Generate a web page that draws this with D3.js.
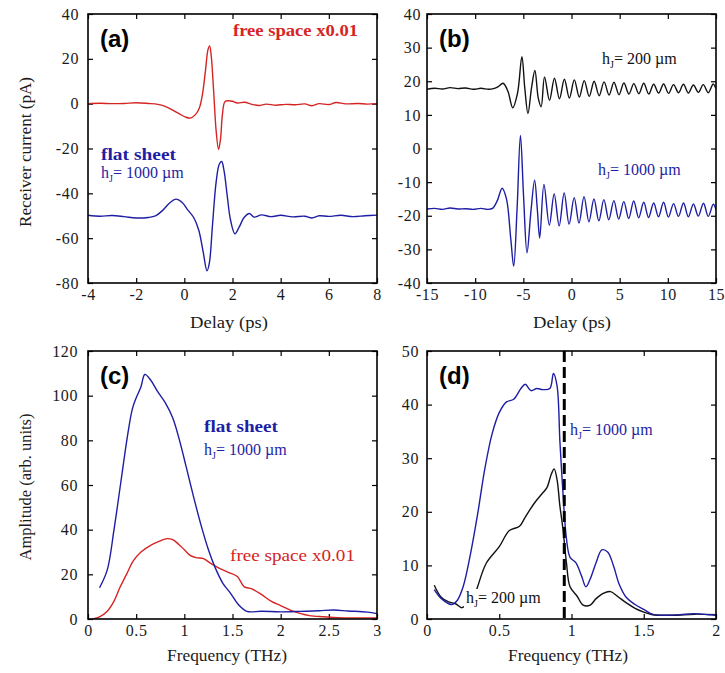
<!DOCTYPE html>
<html>
<head>
<meta charset="utf-8">
<script src="https://cdn.jsdelivr.net/npm/d3@7"></script>
<style>
  body { margin: 0; background: #fff; }
  svg { display: block; }
</style>
</head>
<body>
<svg id="fig" width="725" height="673"></svg>
<script>
// ---------- (a) time-domain pulses, delay in ps, current in pA ----------
const delayTicksA = [-4, -2, 0, 2, 4, 6, 8];
const currentTicksA = [-80, -60, -40, -20, 0, 20, 40];
const freeSpaceA = [
  [-4, 0], [-3.5, 0.2], [-3, 0], [-2.5, 0.1], [-2, 0.4], [-1.5, 0.1], [-1.1, -0.3],
  [-0.8, -1.2], [-0.5, -2.8], [-0.2, -4.6], [0.05, -6], [0.25, -6.4], [0.45, -5],
  [0.62, -2], [0.75, 4], [0.88, 15], [0.98, 24], [1.05, 25.8], [1.12, 21],
  [1.22, 5], [1.32, -12], [1.42, -20.4], [1.5, -16], [1.58, -5], [1.68, 0.8],
  [1.8, 1.3], [2.0, 1.1], [2.2, 0.3], [2.5, 0.6], [2.8, -0.3], [3.1, -0.8],
  [3.4, -0.2], [3.8, -0.7], [4.2, -0.3], [4.6, -0.5], [5.0, -0.1], [5.3, -0.9],
  [5.6, 0], [6.0, -0.4], [6.3, 0.5], [6.7, -0.1], [7.2, 0.1], [7.6, -0.2], [8, 0]
];
const flatSheetA = [
  [-4, -49.8], [-3.5, -50.2], [-3, -49.9], [-2.5, -50.4], [-2, -51], [-1.5, -50.8],
  [-1.2, -50.1], [-0.9, -47.6], [-0.6, -44.2], [-0.35, -42.6], [-0.1, -44],
  [0.15, -47.5], [0.4, -51], [0.6, -56.5], [0.78, -66], [0.94, -74.6], [1.04, -71],
  [1.17, -54], [1.32, -35], [1.45, -27], [1.55, -25.8], [1.65, -30], [1.78, -41],
  [1.92, -52], [2.1, -58], [2.28, -55], [2.48, -50.8], [2.7, -49], [2.9, -50.6],
  [3.2, -49.6], [3.6, -50.4], [4, -49.8], [4.5, -50.5], [5, -50.2], [5.3, -51],
  [5.6, -50], [6, -50.3], [6.5, -49.8], [7, -50.4], [7.5, -50], [8, -49.7]
];

// ---------- (b) time-domain pulses for two sheet heights ----------
const delayTicksB = [-15, -10, -5, 0, 5, 10, 15];
const currentTicksB = [-40, -30, -20, -10, 0, 10, 20, 30, 40];
const h200B = [
  [-15, 17.6], [-14.2, 17.9], [-13.4, 17.7], [-12.6, 18.1], [-11.8, 17.8],
  [-11, 18], [-10.2, 17.6], [-9.4, 17.9], [-8.6, 17.6], [-8.1, 17.8], [-7.6, 18.4],
  [-7.1, 19.4], [-6.6, 17], [-6.1, 12.1], [-5.6, 16.5], [-5.15, 27.3], [-4.85, 18],
  [-4.52, 10.4], [-4.15, 18], [-3.8, 23.2], [-3.45, 15], [-3.15, 12.4],
  [-2.8, 21.3], [-2.28, 14.3], [-1.77, 20.9], [-1.25, 14.8], [-0.74, 20.6],
  [-0.22, 15.0], [0.29, 20.4], [0.81, 15.3], [1.32, 20.2], [1.84, 15.5],
  [2.35, 20.0], [2.87, 15.7], [3.38, 19.8], [3.9, 15.9], [4.41, 19.7], [4.93, 16.0],
  [5.44, 19.5], [5.96, 16.2], [6.47, 19.3], [6.99, 16.3], [7.5, 19.4], [8.02, 16.2],
  [8.53, 19.1], [9.05, 16.5], [9.56, 19.2], [10.08, 16.4], [10.59, 19.0],
  [11.11, 16.6], [11.62, 19.1], [12.14, 16.5], [12.65, 18.9], [13.17, 16.7],
  [13.68, 19.0], [14.2, 16.6], [14.71, 19.2], [15, 17.8]
];
const h1000B = [
  [-15, -18], [-14.2, -17.8], [-13.4, -18.1], [-12.6, -17.7], [-11.8, -18],
  [-11, -17.9], [-10.2, -18.1], [-9.4, -17.8], [-8.7, -18.1], [-8.2, -17.8],
  [-7.7, -15.5], [-7.2, -11.8], [-6.75, -15], [-6.3, -27], [-6.0, -35], [-5.65, -18],
  [-5.3, 3.9], [-4.98, -14], [-4.62, -31], [-4.22, -19], [-3.83, -9.4], [-3.55, -18],
  [-3.3, -26.6], [-2.86, -10.7], [-2.3, -22.8], [-1.8, -13.5], [-1.28, -23],
  [-0.76, -13.2], [-0.25, -22.5], [0.28, -14.6], [0.78, -22.2], [1.3, -14.3],
  [1.81, -21.8], [2.33, -15], [2.84, -21.5], [3.36, -15.2], [3.87, -21.2],
  [4.4, -15.5], [4.9, -21], [5.43, -15.8], [5.94, -20.8], [6.46, -15.6],
  [6.97, -20.6], [7.5, -16], [8.0, -20.5], [8.53, -16.2], [9.03, -20.3],
  [9.56, -16], [10.06, -20.4], [10.6, -16.4], [11.1, -20.2], [11.63, -16.2],
  [12.13, -20.3], [12.66, -16.5], [13.16, -20.1], [13.7, -16.3], [14.2, -20.2],
  [14.72, -16.6], [15, -18.2]
];

// ---------- (c) amplitude spectra, frequency in THz ----------
const freqTicksC = [0, 0.5, 1, 1.5, 2, 2.5, 3];
const ampTicksC = [0, 20, 40, 60, 80, 100, 120];
const flatSheetC = [
  [0.12, 14], [0.2, 22], [0.27, 40], [0.34, 61], [0.41, 82], [0.46, 94], [0.5, 99],
  [0.55, 104], [0.59, 109.5], [0.65, 107], [0.72, 102], [0.8, 97], [0.88, 90],
  [0.95, 80], [1.02, 68], [1.1, 54], [1.18, 41], [1.25, 31], [1.32, 23], [1.4, 16],
  [1.48, 11.5], [1.56, 6.5], [1.65, 3.4], [1.8, 3.5], [2.0, 3.2], [2.2, 3.4],
  [2.4, 3.7], [2.55, 4], [2.7, 3.6], [2.9, 3.1], [3.0, 2.4]
];
const freeSpaceC = [
  [0.05, 0], [0.12, 1], [0.2, 3.5], [0.27, 8], [0.33, 14], [0.4, 20], [0.47, 26],
  [0.55, 30], [0.65, 33], [0.75, 35], [0.82, 36], [0.88, 35.5], [0.94, 33.5],
  [1.0, 31], [1.06, 28.5], [1.12, 27.5], [1.2, 27], [1.27, 25], [1.35, 23],
  [1.45, 21], [1.55, 19], [1.62, 14.5], [1.7, 13.5], [1.8, 11], [1.9, 8], [2.0, 6],
  [2.1, 4], [2.2, 2.5], [2.3, 1.5], [2.45, 1], [2.6, 0.6], [2.8, 0.5], [3.0, 0.5]
];

// ---------- (d) amplitude spectra for two sheet heights ----------
const freqTicksD = [0, 0.5, 1, 1.5, 2];
const ampTicksD = [0, 10, 20, 30, 40, 50];
const cutoffD = [0.95];
const h1000D = [
  [0.05, 5.5], [0.1, 3.8], [0.17, 2.7], [0.21, 3.5], [0.25, 6], [0.3, 12],
  [0.35, 19.5], [0.4, 28], [0.45, 34.5], [0.5, 38.5], [0.55, 40.5], [0.6, 41],
  [0.65, 43], [0.68, 43.8], [0.72, 42.6], [0.76, 43], [0.8, 42.8], [0.85, 43],
  [0.875, 45.8], [0.9, 43.5], [0.92, 33], [0.94, 24], [0.965, 15], [0.99, 11.5],
  [1.03, 10.5], [1.07, 8], [1.1, 6], [1.13, 7.5], [1.17, 10.5], [1.21, 12.9],
  [1.25, 12.5], [1.29, 10], [1.33, 6.5], [1.38, 4], [1.44, 2.7], [1.5, 1.8],
  [1.56, 0.9], [1.65, 0.7], [1.75, 0.8], [1.85, 1], [1.95, 0.8], [2.0, 0.7]
];
const h200D = [
  [0.05, 6.3], [0.1, 4], [0.15, 3.2], [0.2, 2.8], [0.24, 2.1], [0.28, 2.8],
  [0.32, 3.5], [0.35, 6], [0.41, 10.4], [0.5, 13.5], [0.57, 16.5], [0.64, 17.3],
  [0.68, 19], [0.74, 21.5], [0.8, 23.5], [0.83, 24.5], [0.86, 27], [0.88, 28],
  [0.9, 26], [0.92, 21], [0.94, 17], [0.965, 10.5], [0.99, 6], [1.04, 4.2],
  [1.08, 2.6], [1.13, 2.6], [1.17, 3.8], [1.22, 4.8], [1.27, 5.1], [1.32, 4.2],
  [1.38, 3], [1.44, 2], [1.5, 1.3], [1.56, 0.8], [1.7, 0.7], [1.85, 0.9], [2.0, 0.8]
];

// ---------- drawing ----------
const RED = "#d62424";
const BLUE = "#1e1ea4";
const BLACK = "#111";
const serif = "'Liberation Serif', 'Times New Roman', serif";
const sans = "'Liberation Sans', Arial, sans-serif";

const svg = d3.select("#fig");
svg.append("rect").attr("width", 725).attr("height", 673).attr("fill", "#fff");

function panel(o) {
  const x = d3.scaleLinear().domain(o.xDomain).range([o.left, o.right]);
  const y = d3.scaleLinear().domain(o.yDomain).range([o.bottom, o.top]);
  const g = svg.append("g");
  const fmt = d => String(d);

  const styleAxis = sel => {
    sel.select(".domain").remove();
    sel.selectAll(".tick line").attr("stroke", "#000").attr("stroke-width", 1.2);
    sel.selectAll("text").attr("font-family", serif).attr("font-size", 16)
      .attr("fill", "#1a1a1a").attr("letter-spacing", 0.6);
  };

  g.append("g").attr("transform", `translate(0,${o.bottom})`)
    .call(d3.axisBottom(x).tickValues(o.xTicks).tickSize(-5).tickSizeOuter(0)
      .tickPadding(6).tickFormat(fmt)).call(styleAxis);
  g.append("g").attr("transform", `translate(0,${o.top})`)
    .call(d3.axisTop(x).tickValues(o.xTicks).tickSize(-5).tickSizeOuter(0)
      .tickFormat("")).call(styleAxis);
  g.append("g").attr("transform", `translate(${o.left},0)`)
    .call(d3.axisLeft(y).tickValues(o.yTicks).tickSize(-5).tickSizeOuter(0)
      .tickPadding(o.yPad).tickFormat(fmt)).call(styleAxis);
  g.append("g").attr("transform", `translate(${o.right},0)`)
    .call(d3.axisRight(y).tickValues(o.yTicks).tickSize(-5).tickSizeOuter(0)
      .tickFormat("")).call(styleAxis);

  const clipId = "clip-" + o.id;
  svg.append("clipPath").attr("id", clipId).append("rect")
    .attr("x", o.left).attr("y", o.top)
    .attr("width", o.right - o.left).attr("height", o.bottom - o.top);

  const plot = g.append("g").attr("clip-path", `url(#${clipId})`);
  const line = d3.line().x(d => x(d[0])).y(d => y(d[1]))
    .curve(d3.curveCatmullRom.alpha(0.5));
  o.series.forEach(s => {
    plot.append("path").datum(s.data).attr("d", line)
      .attr("fill", "none").attr("stroke", s.color)
      .attr("stroke-width", s.width || 1.4).attr("stroke-linejoin", "round");
  });

  g.append("rect").attr("x", o.left).attr("y", o.top)
    .attr("width", o.right - o.left).attr("height", o.bottom - o.top)
    .attr("fill", "none").attr("stroke", "#000").attr("stroke-width", 1.6);

  // panel letter
  g.append("text").attr("x", o.left + 12).attr("y", o.top + 33)
    .attr("font-family", sans).attr("font-weight", "bold").attr("font-size", 24)
    .attr("fill", "#000").text(o.letter);

  return { g, x, y, plot };
}

// "h_J= ... µm" label with a subscript
function heightLabel(g, px, py, value, color, pad) {
  const t = g.append("text").attr("x", px).attr("y", py)
    .attr("font-family", serif).attr("font-size", 16).attr("fill", color);
  t.append("tspan").text("h");
  t.append("tspan").attr("dy", 4).attr("font-size", 10).text("J");
  t.append("tspan").attr("dy", -4).text("= " + value + " µm");
  if (pad) {
    const bb = t.node().getBBox();
    g.insert("rect", () => t.node())
      .attr("x", bb.x - pad).attr("y", bb.y)
      .attr("width", bb.width + pad * 2).attr("height", bb.height)
      .attr("fill", "#fff");
  }
  return t;
}

function label(g, px, py, str, color, opts = {}) {
  const t = g.append("text").attr("x", px).attr("y", py)
    .attr("font-family", serif).attr("font-size", opts.size || 16)
    .attr("font-weight", opts.bold ? "bold" : "normal")
    .attr("fill", color).text(str);
  if (opts.len) t.attr("textLength", opts.len).attr("lengthAdjust", "spacingAndGlyphs");
  return t;
}

// (a)
const A = panel({
  id: "a", letter: "(a)", left: 88, right: 377, top: 14, bottom: 283,
  xDomain: [-4, 8], yDomain: [-80, 40], xTicks: delayTicksA, yTicks: currentTicksA, yPad: 9,
  series: [{ data: freeSpaceA, color: RED }, { data: flatSheetA, color: BLUE }]
});
label(A.g, 233, 36, "free space x0.01", RED, { bold: true, len: 125 });
label(A.g, 101, 160, "flat sheet", BLUE, { bold: true, len: 75 });
heightLabel(A.g, 101, 178, "1000", BLUE);

// (b)
const B = panel({
  id: "b", letter: "(b)", left: 427, right: 716, top: 14, bottom: 283,
  xDomain: [-15, 15], yDomain: [-40, 40], xTicks: delayTicksB, yTicks: currentTicksB, yPad: 6,
  series: [{ data: h200B, color: BLACK }, { data: h1000B, color: BLUE }]
});
heightLabel(B.g, 602, 64, "200", BLACK);
heightLabel(B.g, 598, 175, "1000", BLUE);

// (c)
const C = panel({
  id: "c", letter: "(c)", left: 88, right: 377, top: 351, bottom: 619,
  xDomain: [0, 3], yDomain: [0, 120], xTicks: freqTicksC, yTicks: ampTicksC, yPad: 10,
  series: [{ data: freeSpaceC, color: RED }, { data: flatSheetC, color: BLUE }]
});
label(C.g, 204, 432, "flat sheet", BLUE, { bold: true, len: 74 });
heightLabel(C.g, 204, 455, "1000", BLUE);
label(C.g, 230, 561, "free space x0.01", RED, { len: 125 });

// (d)
const D = panel({
  id: "d", letter: "(d)", left: 427, right: 716, top: 351, bottom: 619,
  xDomain: [0, 2], yDomain: [0, 50], xTicks: freqTicksD, yTicks: ampTicksD, yPad: 8,
  series: [{ data: h200D, color: BLACK }, { data: h1000D, color: BLUE }]
});
D.plot.selectAll(".cutoff").data(cutoffD).join("line").attr("class", "cutoff")
  .attr("x1", d => D.x(d)).attr("x2", d => D.x(d))
  .attr("y1", D.y(50)).attr("y2", D.y(0))
  .attr("stroke", "#000").attr("stroke-width", 3).attr("stroke-dasharray", "11,5");
heightLabel(D.g, 570, 435, "1000", BLUE);
heightLabel(D.g, 466, 603, "200", BLACK, 2);

// axis titles
function title(px, py, str, len, rotate) {
  const t = svg.append("text").attr("font-family", serif).attr("font-size", 17)
    .attr("fill", "#1a1a1a").attr("text-anchor", "middle")
    .attr("textLength", len).attr("lengthAdjust", "spacingAndGlyphs").text(str);
  if (rotate) t.attr("transform", `translate(${px},${py}) rotate(-90)`);
  else t.attr("x", px).attr("y", py);
}
title(229, 328, "Delay (ps)", 78);
title(572, 328, "Delay (ps)", 78);
title(227, 661, "Frequency (THz)", 120);
title(568, 661, "Frequency (THz)", 120);
title(31, 152, "Receiver current (pA)", 150, true);
title(31, 487, "Amplitude (arb. units)", 147, true);
</script>
</body>
</html>
